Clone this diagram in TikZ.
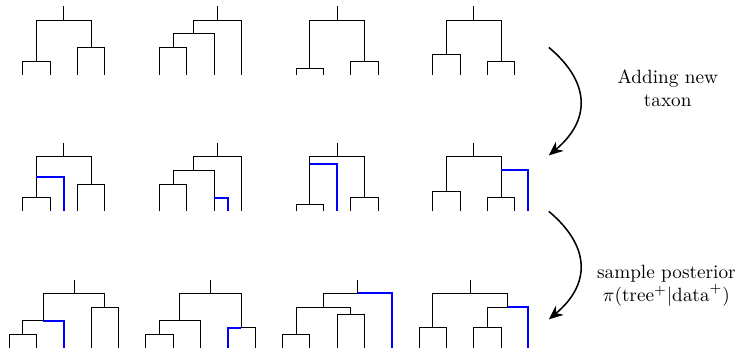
\documentclass[tikz,border=0pt]{standalone}
\usetikzlibrary{arrows.meta}

\tikzset{
  newbranch/.style={line width=1pt, color=blue},
  stepcurve/.style={thick, -{Stealth[length=2.6mm,width=2.2mm]}, out=-40, in=40, looseness=1.3},
}

\begin{document}
\begin{tikzpicture}[x=0.25cm, y=0.25cm]
	\useasboundingbox (-0.66,-0.07) rectangle (53.56,25.47);
	% row 1 : four trees on 4 taxa (base at y=20)
	\draw (1,20) -- (1,21) -- (3,21) -- (3,20);
	\draw (5,20) -- (5,22) -- (7,22) -- (7,20);
	\draw (2,21) -- (2,24) -- (6,24) -- (6,22);
	\draw (4,24) -- (4,25);
	\draw (11,20) -- (11,22) -- (13,22) -- (13,20);
	\draw (12,22) -- (12,23) -- (15,23) -- (15,20);
	\draw (13.5,23) -- (13.5,24) -- (17,24) -- (17,20);
	\draw (15.25,24) -- (15.25,25);
	\draw (21,20) -- (21,20.5) -- (23,20.5) -- (23,20);
	\draw (25,20) -- (25,21) -- (27,21) -- (27,20);
	\draw (22,20.5) -- (22,24) -- (26,24) -- (26,21);
	\draw (24,24) -- (24,25);
	\draw (31,20) -- (31,21.5) -- (33,21.5) -- (33,20);
	\draw (35,20) -- (35,21) -- (37,21) -- (37,20);
	\draw (32,21.5) -- (32,24) -- (36,24) -- (36,21);
	\draw (34,24) -- (34,25);
	% row 2 : same trees, new taxon grafted in blue (base at y=10)
	\draw (1,10) -- (1,11) -- (3,11) -- (3,10);
	\draw (5,10) -- (5,12) -- (7,12) -- (7,10);
	\draw (2,11) -- (2,14) -- (6,14) -- (6,12);
	\draw (4,14) -- (4,15);
	\draw[newbranch] (2,12.5) -- (4,12.5) -- (4,10);
	\draw (11,10) -- (11,12) -- (13,12) -- (13,10);
	\draw (12,12) -- (12,13) -- (15,13) -- (15,10);
	\draw (13.5,13) -- (13.5,14) -- (17,14) -- (17,10);
	\draw (15.25,14) -- (15.25,15);
	\draw[newbranch] (15,11) -- (16,11) -- (16,10);
	\draw (21,10) -- (21,10.5) -- (23,10.5) -- (23,10);
	\draw (25,10) -- (25,11) -- (27,11) -- (27,10);
	\draw (22,10.5) -- (22,14) -- (26,14) -- (26,11);
	\draw (24,14) -- (24,15);
	\draw[newbranch] (22,13.5) -- (24,13.5) -- (24,10);
	\draw (31,10) -- (31,11.5) -- (33,11.5) -- (33,10);
	\draw (35,10) -- (35,11) -- (37,11) -- (37,10);
	\draw (32,11.5) -- (32,14) -- (36,14) -- (36,11);
	\draw (34,14) -- (34,15);
	\draw[newbranch] (36,13) -- (38,13) -- (38,10);
	% row 3 : posterior samples on 5 taxa (base at y=0)
	\draw (0,0) -- (0,1) -- (2,1) -- (2,0);
	\draw (1,1) -- (1,2) -- (2.5,2);
	\draw[newbranch] (2.5,2) -- (4,2) -- (4,0);
	\draw (6,0) -- (6,3) -- (8,3) -- (8,0);
	\draw (2.5,2) -- (2.5,4) -- (7,4) -- (7,3);
	\draw (4.75,4) -- (4.75,5);
	\draw (10,0) -- (10,1) -- (12,1) -- (12,0);
	\draw (11,1) -- (11,2) -- (14,2) -- (14,0);
	\draw[newbranch] (16,0) -- (16,1.5) -- (17,1.5);
	\draw (17,1.5) -- (18,1.5) -- (18,0);
	\draw (12.5,2) -- (12.5,4) -- (17,4) -- (17,1.5);
	\draw (14.75,4) -- (14.75,5);
	\draw (20,0) -- (20,1) -- (22,1) -- (22,0);
	\draw (24,0) -- (24,2.5) -- (26,2.5) -- (26,0);
	\draw (21,1) -- (21,3) -- (25,3) -- (25,2.5);
	\draw (23,3) -- (23,4) -- (25.5,4);
	\draw[newbranch] (25.5,4) -- (28,4) -- (28,0);
	\draw (25.5,4) -- (25.5,5);
	\draw (30,0) -- (30,1.5) -- (32,1.5) -- (32,0);
	\draw (34,0) -- (34,1.5) -- (36,1.5) -- (36,0);
	\draw (35,1.5) -- (35,3) -- (36.5,3);
	\draw[newbranch] (36.5,3) -- (38,3) -- (38,0);
	\draw (31,1.5) -- (31,4) -- (36.5,4) -- (36.5,3);
	\draw (33.75,4) -- (33.75,5);
	% steps between rows
	\coordinate (addfrom) at (39.5,22.0);
	\coordinate (addto) at (39.5,14.1);
	\coordinate (samplefrom) at (39.5,10.0);
	\coordinate (sampleto) at (39.5,2.1);
	\draw[stepcurve] (addfrom) to (addto);
	\draw[stepcurve] (samplefrom) to (sampleto);
	\node[align=center] (addlabel) at (48.2,19.0) {Adding new\\taxon};
	\node[align=center] (samplelabel) at (48.1,4.56) {sample posterior\\$\pi(\mathrm{tree}^{+}|\mathrm{data}^{+})$};
\end{tikzpicture}
\end{document}
